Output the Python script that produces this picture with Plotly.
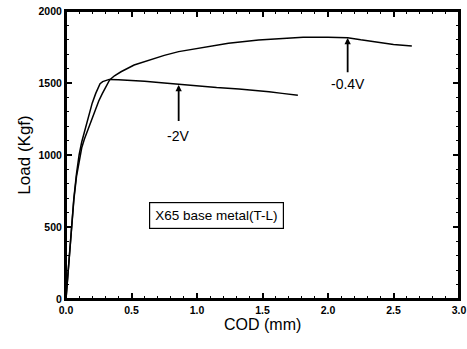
import plotly.graph_objects as go

cod_2v = [0, 0.01, 0.025, 0.04, 0.06, 0.08, 0.10, 0.12, 0.14, 0.16, 0.18, 0.20, 0.227, 0.245, 0.26, 0.28, 0.30, 0.33, 0.40, 0.45, 0.51, 0.6, 0.75, 0.86, 1.0, 1.15, 1.32, 1.45, 1.55, 1.65, 1.77]
load_2v = [0, 120, 320, 500, 700, 870, 1000, 1090, 1160, 1230, 1300, 1360, 1428, 1470, 1495, 1510, 1518, 1525, 1522, 1520, 1518, 1512, 1500, 1490, 1478, 1468, 1458, 1450, 1440, 1428, 1415]

cod_04v = [0, 0.01, 0.025, 0.04, 0.06, 0.08, 0.10, 0.12, 0.14, 0.16, 0.19, 0.22, 0.25, 0.278, 0.30, 0.333, 0.37, 0.42, 0.52, 0.64, 0.75, 0.86, 1.0, 1.24, 1.47, 1.65, 1.81, 2.0, 2.15, 2.25, 2.38, 2.5, 2.64]
load_04v = [0, 120, 320, 500, 690, 850, 960, 1050, 1110, 1160, 1240, 1310, 1375, 1428, 1470, 1521, 1550, 1578, 1625, 1660, 1692, 1718, 1740, 1776, 1799, 1810, 1818, 1818, 1815, 1800, 1782, 1768, 1757]

x_ticks = [0.0, 0.5, 1.0, 1.5, 2.0, 2.5, 3.0]
x_tick_labels = ["0.0", "0.5", "1.0", "1.5", "2.0", "2.5", "3.0"]
y_ticks = [0, 500, 1000, 1500, 2000]
x_range = [0, 3.0]
y_range = [0, 2000]

FONT = "Liberation Sans, Arial, sans-serif"

fig = go.Figure()
fig.add_trace(go.Scatter(x=cod_2v, y=load_2v, mode="lines",
                         line=dict(color="black", width=1.5), showlegend=False, hoverinfo="skip"))
fig.add_trace(go.Scatter(x=cod_04v, y=load_04v, mode="lines",
                         line=dict(color="black", width=1.5), showlegend=False, hoverinfo="skip"))
# empty trace so the mirrored (top/right) tick axes are drawn
fig.add_trace(go.Scatter(x=[None], y=[None], xaxis="x2", yaxis="y2", mode="lines",
                         showlegend=False, hoverinfo="skip"))

# arrows
fig.add_annotation(x=0.86, y=1486, ax=0.86, ay=1225, xref="x", yref="y", axref="x", ayref="y",
                   text="", showarrow=True, arrowhead=2, arrowsize=0.7, arrowwidth=1.8, arrowcolor="black")
fig.add_annotation(x=0.855, y=1130, text="-2V", showarrow=False,
                   font=dict(family=FONT, size=14, color="black"))
fig.add_annotation(x=2.15, y=1812, ax=2.15, ay=1565, xref="x", yref="y", axref="x", ayref="y",
                   text="", showarrow=True, arrowhead=2, arrowsize=0.7, arrowwidth=1.8, arrowcolor="black")
fig.add_annotation(x=2.15, y=1490, text="-0.4V", showarrow=False,
                   font=dict(family=FONT, size=14, color="black"))

# label box
fig.add_annotation(x=1.15, y=580, text="X65 base metal(T-L)", showarrow=False,
                   font=dict(family=FONT, size=13.5, color="black"),
                   bordercolor="black", borderwidth=1.2, borderpad=5, bgcolor="white")

# axis titles
fig.add_annotation(x=0.5, y=-0.125, xref="paper", yref="paper", text="COD (mm)", showarrow=False,
                   font=dict(family=FONT, size=16, color="black"))
fig.add_annotation(x=-0.137, y=0.5, xref="paper", yref="paper", text="Load (Kgf)", showarrow=False,
                   textangle=-90, font=dict(family=FONT, size=17, color="black"))

# frame
fig.add_shape(type="rect", xref="paper", yref="paper", x0=0, y0=0, x1=1, y1=1,
              line=dict(color="black", width=2), layer="above")

axis_common = dict(showgrid=False, zeroline=False, showline=True, linecolor="black", linewidth=2,
                   ticks="inside", ticklen=6, tickwidth=1.5, tickcolor="black",
                   automargin=False, ticklabeloverflow="allow",
                   tickfont=dict(family=FONT, size=10.5, color="black", weight="bold"))
xminor = dict(ticks="inside", ticklen=3, tickwidth=1.2, tickcolor="black", dtick=0.1)
yminor = dict(ticks="inside", ticklen=3, tickwidth=1.2, tickcolor="black", dtick=100)

fig.update_layout(
    xaxis=dict(range=x_range, tickvals=x_ticks, ticktext=x_tick_labels, minor=xminor, **axis_common),
    yaxis=dict(range=y_range, tickvals=y_ticks, minor=yminor, **axis_common),
    xaxis2=dict(range=x_range, tickvals=x_ticks, minor=xminor, overlaying="x", side="top",
                anchor="y2", showticklabels=False, **axis_common),
    yaxis2=dict(range=y_range, tickvals=y_ticks, minor=yminor, overlaying="y", side="right",
                anchor="x2", showticklabels=False, **axis_common),
    width=467, height=349, margin=dict(l=66, r=8, t=11, b=50),
    paper_bgcolor="white", plot_bgcolor="white", font=dict(family=FONT),
    hovermode=False,
)

fig.write_html("out.html", config={"displayModeBar": False},
               post_script="document.body.style.margin='0px';")
